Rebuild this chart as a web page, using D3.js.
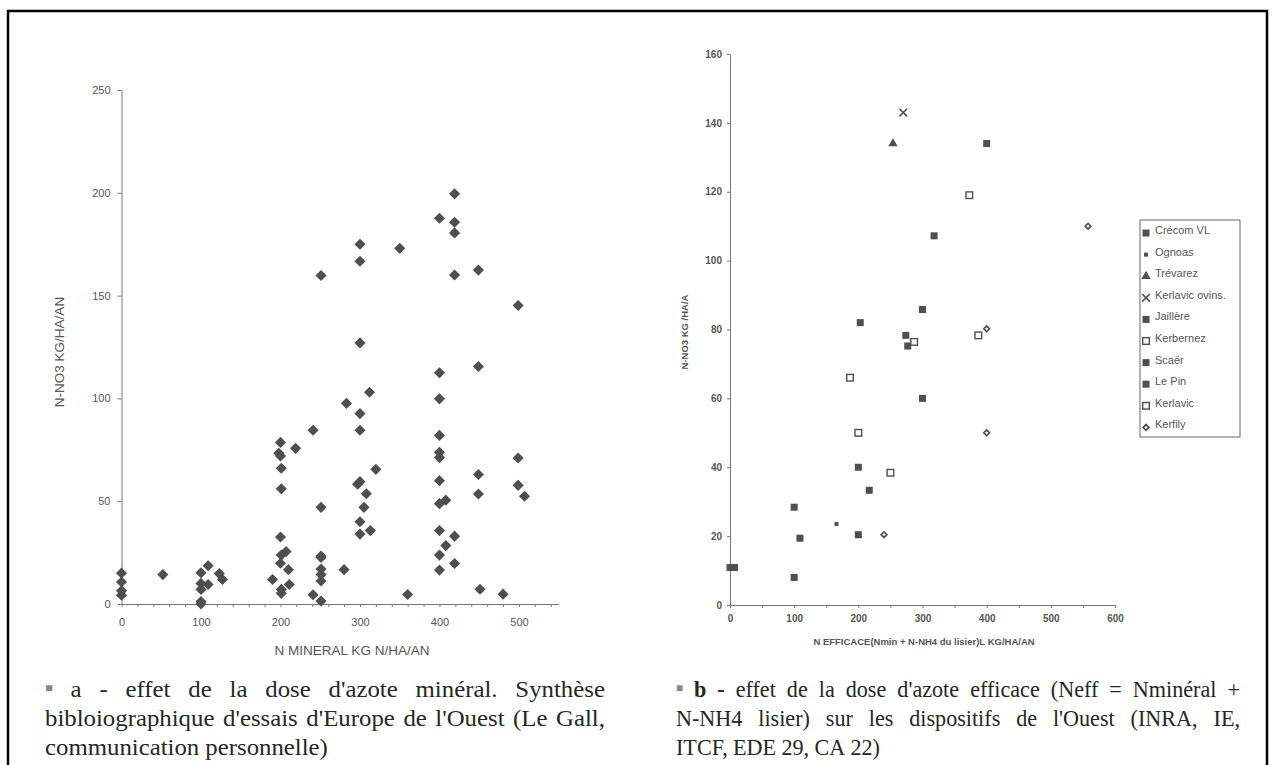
<!DOCTYPE html>
<html lang="fr">
<head>
<meta charset="utf-8">
<title>Effet de la dose d'azote</title>
<script src="https://d3js.org/d3.v7.min.js"></script>
<style>
body { margin: 0; background: #fff; }
.tick text, .lbl { font-family: "Liberation Sans", Arial, sans-serif; fill: #555; }
.cap { font-family: "Liberation Serif", "Times New Roman", serif; font-size: 23px; font-weight: 400; fill: #262626; }
</style>
</head>
<body>
<script>
// ---- chart a : N mineral vs N-NO3 ----
var mineralDose = [0,0,0,0, 52, 100,100,100,100,100, 109,109, 123,127,
  190, 198,200,200,201,201,200,201,207,200,210,211,201,201, 219,
  241,241, 251,251,251,251,251,251,251,251, 280,283,
  300,300,300,300,300,300,300,300,297, 305,308,312,313,320, 350, 360,
  400,400,400,400,400,400,400,400,400,400,400, 408,408,
  419,419,419,419,419,419, 449,449,449,449,451, 480, 499,499,499,507];
var mineralNO3 = [15,10.7,6.4,4.3, 14.3, 15.2,10,7.1,1.2,0, 18.6,9.5, 14.8,11.9,
  11.9, 73.3,78.6,72,66,56,32.6,23.8,25.5,19.8,16.7,9.5,7.1,5.2, 75.7,
  84.5,4.5, 159.8,47,23.3,22.6,17,14.3,11.2,1.4, 16.7,97.6,
  175,166.7,127,92.6,84.5,59.5,40,34,58.3, 47,53.6,103,35.7,65.5, 173, 4.6,
  187.6,112.5,99.8,82,73.8,71.2,60,48.8,35.7,23.8,16.5, 50.5,28.4,
  199.5,185.7,180.5,160,33,19.7, 162.4,115.5,63,53.5,7.2, 4.8, 145.2,71,57.7,52.4];
var xTicksA = [0, 100, 200, 300, 400, 500];
var yTicksA = [0, 50, 100, 150, 200, 250];

// ---- chart b : N efficace vs N-NO3, one array per site ----
var siteNames = ["Crécom VL", "Ognoas", "Trévarez", "Kerlavic ovins.", "Jaillère",
                 "Kerbernez", "Scaër", "Le Pin", "Kerlavic", "Kerfily"];
var crecomVL = [[0,10.9],[7,10.9],[100,8],[100,28.4],[109,19.4]];
var ognoas = [[166,23.5]];
var trevarez = [[254,134]];
var kerlavicOvins = [[270,143]];
var jaillere = [[200,20.4],[200,40],[217,33.3]];
var kerbernez = [[187,66],[200,50],[250,38.4]];
var scaer = [[203,82],[274,78.3],[277,75.2],[300,85.8]];
var lePin = [[300,60],[318,107.2],[400,134]];
var kerlavic = [[287,76.4],[387,78.3],[373,119]];
var kerfily = [[240,20.4],[400,50],[400,80.2],[558,110]];
var xTicksB = [0, 100, 200, 300, 400, 500, 600];
var yTicksB = [0, 20, 40, 60, 80, 100, 120, 140, 160];

var W = 1272, H = 765;
var svg = d3.select("body").append("svg").attr("width", W).attr("height", H);

// frame
svg.append("rect").attr("x", 8).attr("y", 11).attr("width", 1259).attr("height", 820)
  .attr("fill", "none").attr("stroke", "#000").attr("stroke-width", 2.5);

var ink = "#4f4f4f";

// ================= chart a =================
var xa = d3.scaleLinear().domain([0, 550]).range([121.5, 558.7]);
var ya = d3.scaleLinear().domain([0, 250]).range([604, 90]);

var axA = svg.append("g").attr("transform", "translate(0,604)")
  .call(d3.axisBottom(xa).tickValues(d3.range(0, 541, 20)).tickSize(3).tickSizeOuter(0).tickPadding(11)
    .tickFormat(function(d) { return xTicksA.indexOf(d) >= 0 ? d : ""; }));
var ayA = svg.append("g").attr("transform", "translate(121.5,0)")
  .call(d3.axisLeft(ya).tickValues(yTicksA).tickSize(4).tickSizeOuter(0).tickPadding(7));
[axA, ayA].forEach(function(g) {
  g.selectAll("path,line").attr("stroke", "#777");
  g.selectAll("text").attr("font-size", 11);
});

svg.append("g").selectAll("path").data(mineralDose).enter().append("path")
  .attr("d", d3.symbol(d3.symbolSquare, 62))
  .attr("transform", function(d, i) { return "translate(" + xa(d) + "," + ya(mineralNO3[i]) + ") rotate(45)"; })
  .attr("fill", ink);

svg.append("text").attr("class", "lbl").attr("x", 352).attr("y", 655)
  .attr("text-anchor", "middle").attr("font-size", 13.5).text("N MINERAL KG N/HA/AN");
svg.append("text").attr("class", "lbl").attr("transform", "translate(64,352) rotate(-90)")
  .attr("text-anchor", "middle").attr("font-size", 13.5).text("N-NO3 KG/HA/AN");

// ================= chart b =================
var xb = d3.scaleLinear().domain([0, 600]).range([730, 1115]);
var yb = d3.scaleLinear().domain([0, 160]).range([605, 54]);

var axB = svg.append("g").attr("transform", "translate(0,605)")
  .call(d3.axisBottom(xb).tickValues(d3.range(0, 601, 50)).tickSize(3).tickSizeOuter(0).tickPadding(7)
    .tickFormat(function(d) { return xTicksB.indexOf(d) >= 0 ? d : ""; }));
var ayB = svg.append("g").attr("transform", "translate(730,0)")
  .call(d3.axisLeft(yb).tickValues(yTicksB).tickSize(3).tickSizeOuter(0).tickPadding(5));
[axB, ayB].forEach(function(g) {
  g.selectAll("path,line").attr("stroke", "#777");
  g.selectAll("text").attr("font-size", 10).attr("font-weight", "bold");
});

// marker drawers, one per legend style
function filledSq(g, s) { return g.append("rect").attr("x", -s / 2).attr("y", -s / 2).attr("width", s).attr("height", s).attr("fill", ink); }
function openSq(g) { return g.append("rect").attr("x", -3.3).attr("y", -3.3).attr("width", 6.6).attr("height", 6.6)
  .attr("fill", "#fff").attr("stroke", ink).attr("stroke-width", 1.4); }
var markers = [
  function(g) { filledSq(g, 7); },
  function(g) { filledSq(g, 4); },
  function(g) { g.append("path").attr("d", d3.symbol(d3.symbolTriangle, 38)).attr("fill", ink); },
  function(g) { g.append("path").attr("d", d3.symbol(d3.symbolTimes, 40)).attr("fill", "none").attr("stroke", ink).attr("stroke-width", 1.6); },
  function(g) { filledSq(g, 7); },
  openSq,
  function(g) { filledSq(g, 7); },
  function(g) { filledSq(g, 7); },
  openSq,
  function(g) { g.append("path").attr("d", d3.symbol(d3.symbolSquare, 16)).attr("transform", "rotate(45)")
      .attr("fill", "#fff").attr("stroke", ink).attr("stroke-width", 1.7); }
];
var siteData = [crecomVL, ognoas, trevarez, kerlavicOvins, jaillere, kerbernez, scaer, lePin, kerlavic, kerfily];

var plotB = svg.append("g");
siteData.forEach(function(pts, k) {
  plotB.selectAll(null).data(pts).enter().append("g")
    .attr("transform", function(d) { return "translate(" + xb(d[0]) + "," + yb(d[1]) + ")"; })
    .each(function() { markers[k](d3.select(this)); });
});

svg.append("text").attr("class", "lbl").attr("x", 924).attr("y", 645)
  .attr("text-anchor", "middle").attr("font-size", 9.5).attr("font-weight", "bold")
  .text("N EFFICACE(Nmin + N-NH4 du lisier)L KG/HA/AN");
svg.append("text").attr("class", "lbl").attr("transform", "translate(688,332) rotate(-90)")
  .attr("text-anchor", "middle").attr("font-size", 9.5).attr("font-weight", "bold")
  .text("N-NO3 KG /HA/A");

// legend
var leg = svg.append("g").attr("transform", "translate(1140,220)");
leg.append("rect").attr("width", 100).attr("height", 217).attr("fill", "#fff")
  .attr("stroke", "#666").attr("stroke-width", 1);
siteNames.forEach(function(name, k) {
  var row = leg.append("g").attr("transform", "translate(0," + (10 + k * 21.6) + ")");
  var m = row.append("g").attr("transform", "translate(6,3)");
  markers[k](m);
  row.append("text").attr("class", "lbl").attr("x", 15).attr("y", 4)
    .attr("font-size", 11).attr("fill", "#444").text(name);
});

// ================= captions =================
// lines of words justified between x0 and x1; the last line keeps normal
// spacing and sets the horizontal stretch so that it ends at lastEnd.
function caption(lines, x0, x1, ys, lastEnd) {
  var g = svg.append("g");
  var rows = lines.map(function(words, li) {
    var nodes = words.map(function(w) {
      var isObj = typeof w === "object";
      var t = g.append("text").attr("class", "cap").attr("y", ys[li]).text(isObj ? w.t : w);
      if (isObj && w.bullet) t.style("font-size", "12px").style("fill", "#888").attr("dy", -5);
      if (isObj && w.bold) t.style("font-weight", "bold");
      return t;
    });
    return { nodes: nodes, widths: nodes.map(function(n) { return n.node().getComputedTextLength(); }) };
  });
  var lastRow = rows[rows.length - 1];
  var space = 5.5;
  var natural = d3.sum(lastRow.widths) + space * (lastRow.widths.length - 1);
  var sx = (lastEnd - x0) / natural;
  var span = (x1 - x0) / sx;
  g.attr("transform", "translate(" + x0 + ",0) scale(" + sx + ",1)");
  rows.forEach(function(r, li) {
    var last = li === rows.length - 1;
    var gap = last ? space : (span - d3.sum(r.widths)) / (r.widths.length - 1);
    var x = 0;
    r.nodes.forEach(function(n, i) { n.attr("x", x); x += r.widths[i] + gap; });
  });
}
var bullet = { t: "■", bullet: true };
var capY = [697, 726, 755];
caption([
  [bullet, "a", "-", "effet", "de", "la", "dose", "d'azote", "minéral.", "Synthèse"],
  ["bibloiographique", "d'essais", "d'Europe", "de", "l'Ouest", "(Le", "Gall,"],
  ["communication", "personnelle)"]
], 45, 605, capY, 328);
caption([
  [bullet, { t: "b", bold: true }, { t: "-", bold: true }, "effet", "de", "la", "dose", "d'azote", "efficace",
    "(Neff", "=", "Nminéral", "+"],
  ["N-NH4", "lisier)", "sur", "les", "dispositifs", "de", "l'Ouest", "(INRA,", "IE,"],
  ["ITCF,", "EDE", "29,", "CA", "22)"]
], 676, 1240, capY, 880);
</script>
</body>
</html>
